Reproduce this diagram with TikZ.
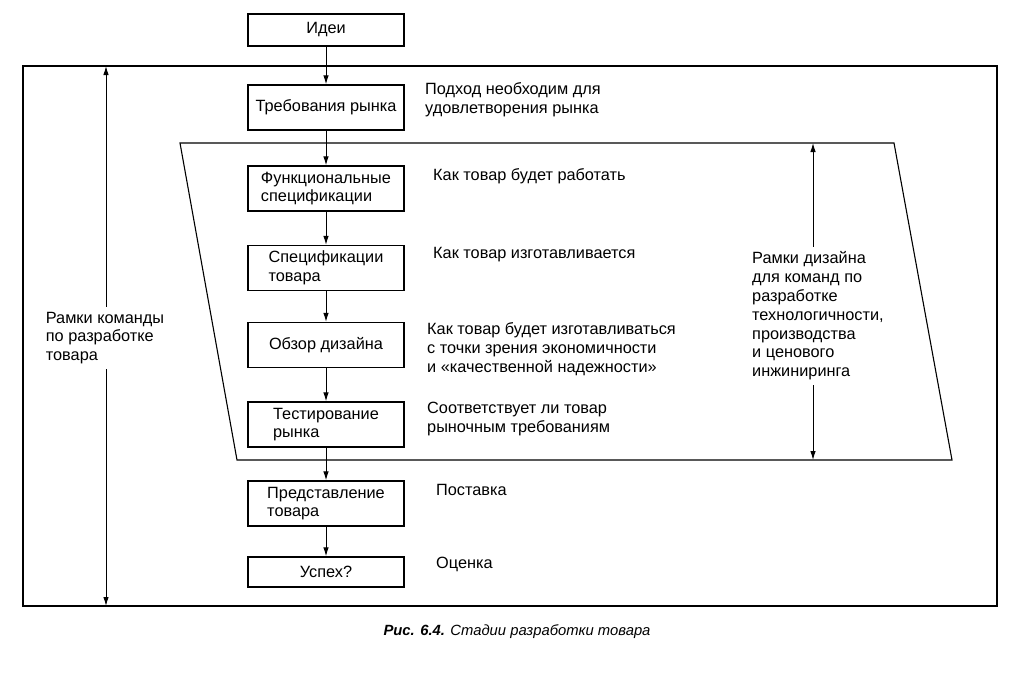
\documentclass[tikz,border=0pt]{standalone}
\usepackage{fontspec}
\setmainfont{Liberation Sans}
\usetikzlibrary{arrows.meta}
\newcommand\mainfs{\fontsize{16.3}{18.8}\selectfont}
\begin{document}
\begin{tikzpicture}[x=1pt,y=-1pt,
  box/.style={draw, line width=1.3pt, minimum width=156pt, minimum height=45pt, align=left, inner sep=0pt, font=\mainfs},
  side/.style={anchor=west, align=left, inner sep=0pt, font=\mainfs},
  frame/.style={line width=1.1pt},
  arr/.style={line width=1pt, -{Latex[length=9pt,width=5.5pt]}},
  lbl/.style={align=left, inner xsep=0pt, inner ysep=5pt, font=\mainfs}]
\fill[white] (0,0) rectangle (1014,678);
\useasboundingbox (0,0) rectangle (1014,678);

% frames
\draw[frame] (23,66) rectangle (997,606);
\coordinate (p1) at (180,143);
\coordinate (p2) at (894,143);
\coordinate (p3) at (952,460);
\coordinate (p4) at (237,460);
\draw[frame] (p1) -- (p2) -- (p3) -- (p4) -- cycle;

% boxes
\node[box, minimum height=32pt] (idei) at (326,30) {Идеи};
\node[box] (treb) at (326,107.5) {Требования рынка};
\node[box] (func) at (326,188.5) {Функциональные\\спецификации};
\node[box] (spec) at (326,268) {Спецификации\\товара};
\node[box] (obz) at (326,345) {Обзор дизайна};
\node[box] (test) at (326,424.5) {Тестирование\\рынка};
\node[box] (pred) at (326,503.5) {Представление\\товара};
\node[box, minimum height=30pt] (usp) at (326,572) {Успех?};

\draw[arr] (idei) -- (treb);
\draw[arr] (treb) -- (func);
\draw[arr] (func) -- (spec);
\draw[arr] (spec) -- (obz);
\draw[arr] (obz) -- (test);
\draw[arr] (test) -- (pred);
\draw[arr] (pred) -- (usp);

% side texts
\node[side] (t1) at (425,100) {Подход необходим для\\удовлетворения рынка};
\node[side] (t2) at (433,176) {Как товар будет работать};
\node[side] (t3) at (433,255) {Как товар изготавливается};
\node[side] (t4) at (427,349) {Как товар будет изготавливаться\\с точки зрения экономичности\\и «качественной надежности»};
\node[side] (t5) at (427,419) {Соответствует ли товар\\рыночным требованиям};
\node[side] (t6) at (436,490) {Поставка};
\node[side] (t7) at (436,564) {Оценка};

% left span
\coordinate (ltop) at (106,66);
\coordinate (lbot) at (106,606);
\node[lbl] (L) at (105,338) {Рамки команды\\по разработке\\товара};
\draw[arr] (L.north -| ltop) -- (ltop);
\draw[arr] (L.south -| lbot) -- (lbot);

% right span
\coordinate (rtop) at (813,143);
\coordinate (rbot) at (813,460);
\node[lbl, anchor=west] (R) at (752,316) {Рамки дизайна\\для команд по\\разработке\\технологичности,\\производства\\и ценового\\инжиниринга};
\draw[arr] (R.north -| rtop) -- (rtop);
\draw[arr] (R.south -| rbot) -- (rbot);

% caption
\node[font=\fontsize{14.8}{17}\selectfont\itshape] (cap) at (517,632) {\textbf{Рис. 6.4.} Стадии разработки товара};
\end{tikzpicture}
\end{document}
